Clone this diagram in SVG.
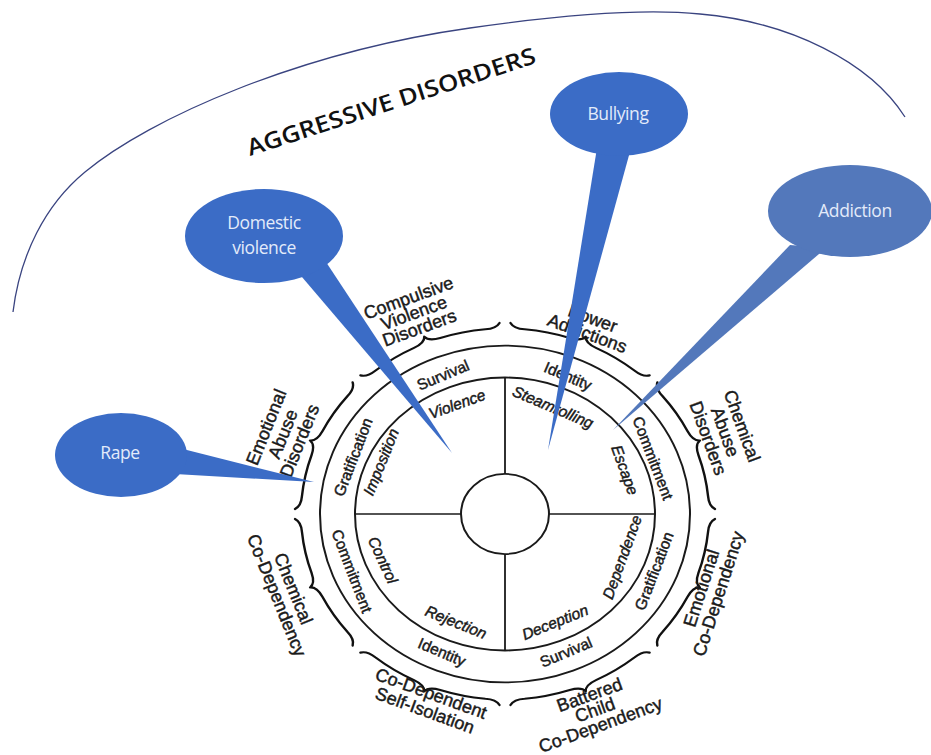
<svg xmlns="http://www.w3.org/2000/svg" xmlns:xlink="http://www.w3.org/1999/xlink" width="931" height="755" viewBox="0 0 931 755">
<style>
text{font-family:"Liberation Sans",Arial,sans-serif;fill:#1a1a1a;text-anchor:middle;dominant-baseline:central}
.o,.b,.i{stroke:#1a1a1a;stroke-width:0.45px}
.o{font-size:18px}
.b{font-size:15.5px}
.i{font-size:15.5px;font-style:italic}
.ln{fill:none;stroke:#1a1a1a;stroke-width:2}
.br{fill:none;stroke:#111;stroke-width:2.4;stroke-linecap:round;stroke-linejoin:round}
.q{stroke:#1a1a1a;stroke-width:1.8}
.bub{fill:#3b6cc6}
.bub2{fill:#5378bb}
.bt{font-family:"Open Sans","Liberation Sans",sans-serif;font-size:17.5px;fill:#e3ebfa;letter-spacing:-0.4px}
.title{font-family:"Open Sans","Liberation Sans",sans-serif;font-size:23px;font-weight:600;fill:#111;text-anchor:start;dominant-baseline:auto}
</style>
<defs>
<path id="brace" class="br" d="M196.1,-75.3 Q191.7,-69.8 195.1,-59.6 A204,204 0 0 1 203.5,-14.2 Q204.5,-2 211,0 Q204.5,2 203.5,14.2 A204,204 0 0 1 195.1,59.6 Q191.7,69.8 196.1,75.3"/>
</defs>
<rect width="931" height="755" fill="#ffffff"/>

<g id="aggressive-arc">
<path d="M13,312 C20,255 45,205 85,172 C150,118 300,52 470,28 C560,15 640,8 700,14 C790,22 870,62 905,117" fill="none" stroke="#3a4480" stroke-width="1.3"/>
<text class="title" transform="translate(250,156) rotate(-18)" textLength="302" lengthAdjust="spacingAndGlyphs">AGGRESSIVE DISORDERS</text>
</g>

<g id="wheel">
<g transform="translate(505,514) scale(1,0.91)">
<circle class="ln" r="185" stroke-width="2.4"/>
<circle class="ln" r="150"/>
<circle class="ln" r="44"/>
<line class="q" x1="0" y1="-150" x2="0" y2="-44"/>
<line class="q" x1="0" y1="44" x2="0" y2="150"/>
<line class="q" x1="-150" y1="0" x2="-44" y2="0"/>
<line class="q" x1="44" y1="0" x2="150" y2="0"/>
<g id="braces">
<use xlink:href="#brace" href="#brace" transform="rotate(-112.5)"/>
<use xlink:href="#brace" href="#brace" transform="rotate(-67.5)"/>
<use xlink:href="#brace" href="#brace" transform="rotate(-22.5)"/>
<use xlink:href="#brace" href="#brace" transform="rotate(22.5)"/>
<use xlink:href="#brace" href="#brace" transform="rotate(67.5)"/>
<use xlink:href="#brace" href="#brace" transform="rotate(112.5)"/>
<use xlink:href="#brace" href="#brace" transform="rotate(157.5)"/>
<use xlink:href="#brace" href="#brace" transform="rotate(-157.5)"/>
</g>
</g>
</g>

<g id="band-labels">
<text class="b" transform="translate(443,375) rotate(-23)">Survival</text>
<text class="b" transform="translate(568,376) rotate(23)">Identity</text>
<text class="b" transform="translate(653,458) rotate(69)">Commitment</text>
<text class="b" transform="translate(654,571) rotate(-69)">Gratification</text>
<text class="b" transform="translate(566,652) rotate(-23)">Survival</text>
<text class="b" transform="translate(442,652) rotate(23)">Identity</text>
<text class="b" transform="translate(352,571) rotate(69)">Commitment</text>
<text class="b" transform="translate(353,457) rotate(-69)">Gratification</text>
</g>

<g id="inner-labels">
<text class="i" transform="translate(457,404) rotate(-20)">Violence</text>
<text class="i" transform="translate(553,407) rotate(23)">Steamrolling</text>
<text class="i" transform="translate(625,470) rotate(70)">Escape</text>
<text class="i" transform="translate(622,557) rotate(-70)">Dependence</text>
<text class="i" transform="translate(555,622) rotate(-22)">Deception</text>
<text class="i" transform="translate(456,622) rotate(22)">Rejection</text>
<text class="i" transform="translate(383,560) rotate(65)">Control</text>
<text class="i" transform="translate(381,462) rotate(-68)">Imposition</text>
</g>

<g id="lbl-compulsive" transform="translate(414,313) rotate(-20)">
<text class="o" y="-16">Compulsive</text><text class="o" y="0">Violence</text><text class="o" y="16">Disorders</text>
</g>
<g id="lbl-power" transform="translate(590,326) rotate(20)">
<text class="o" y="-8">Power</text><text class="o" y="8">Addictions</text>
</g>
<g id="lbl-chemical-abuse" transform="translate(725,432) rotate(70)">
<text class="o" y="-18">Chemical</text><text class="o" y="0">Abuse</text><text class="o" y="18">Disorders</text>
</g>
<g id="lbl-emotional-codep" transform="translate(710,591) rotate(-72)">
<text class="o" y="-9">Emotional</text><text class="o" y="9">Co-Dependency</text>
</g>
<g id="lbl-battered" transform="translate(595,710) rotate(-20)">
<text class="o" y="-16">Battered</text><text class="o" y="0">Child</text><text class="o" y="16">Co-Dependency</text>
</g>
<g id="lbl-selfisolation" transform="translate(428,702) rotate(20)">
<text class="o" y="-9">Co-Dependent</text><text class="o" y="9">Self-Isolation</text>
</g>
<g id="lbl-chemical-codep" transform="translate(285,592) rotate(68)">
<text class="o" y="-9">Chemical</text><text class="o" y="9">Co-Dependency</text>
</g>
<g id="lbl-emotional-abuse" transform="translate(283,434) rotate(-68)">
<text class="o" y="-18">Emotional</text><text class="o" y="0">Abuse</text><text class="o" y="18">Disorders</text>
</g>

<g id="callout-domestic">
<polygon class="bub" points="296,270 326,262 452,453"/>
<ellipse class="bub" cx="264" cy="236" rx="79" ry="47"/>
<text class="bt" x="264" y="222">Domestic</text>
<text class="bt" x="264" y="247">violence</text>
</g>
<g id="callout-bullying">
<polygon class="bub" points="597,148 631,148 548,450"/>
<ellipse class="bub" cx="619" cy="114" rx="69" ry="42"/>
<text class="bt" x="618" y="113">Bullying</text>
</g>
<g id="callout-addiction">
<polygon class="bub2" points="790,245 826,248 613,430"/>
<ellipse class="bub2" cx="850" cy="211" rx="82" ry="46"/>
<text class="bt" x="855" y="210">Addiction</text>
</g>
<g id="callout-rape">
<polygon class="bub" points="175,447 175,474 314,482"/>
<ellipse class="bub" cx="121" cy="455" rx="66" ry="42"/>
<text class="bt" x="120" y="452">Rape</text>
</g>
</svg>
